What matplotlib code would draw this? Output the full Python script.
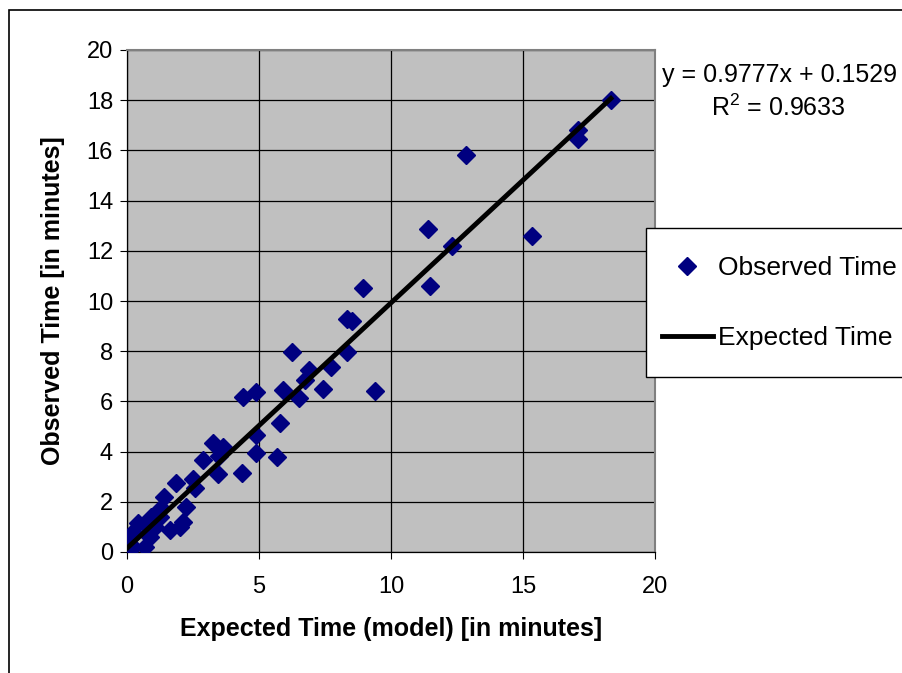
import matplotlib
matplotlib.use('Agg')
import matplotlib.pyplot as plt
from matplotlib.patches import Rectangle

plt.rcParams['font.family'] = ['Liberation Sans', 'DejaVu Sans']
plt.rcParams['mathtext.fontset'] = 'custom'
plt.rcParams['mathtext.rm'] = 'Liberation Sans'

# observed vs expected times (minutes)
expected = [18.33, 17.08, 17.08, 12.84, 11.40, 15.34, 12.31, 11.48, 8.94, 8.35,
            8.52, 8.33, 6.25, 7.73, 6.89, 6.74, 5.91, 7.42, 6.52, 9.41,
            4.39, 4.89, 5.78, 4.90, 4.87, 5.68, 4.37, 3.26, 3.62, 3.47,
            2.86, 3.43, 2.50, 2.58, 1.86, 1.40, 2.25, 2.12, 2.00, 1.63,
            1.29, 1.25, 0.91, 0.72, 0.42, 0.23, 0.00, 0.23, 0.68, 0.87,
            1.06, 0.11]
observed = [18.00, 16.81, 16.45, 15.82, 12.87, 12.59, 12.19, 10.60, 10.52, 9.30,
            9.22, 7.95, 7.95, 7.37, 7.25, 6.87, 6.45, 6.49, 6.13, 6.41,
            6.18, 6.37, 5.12, 4.68, 3.94, 3.78, 3.13, 4.34, 4.20, 3.84,
            3.65, 3.11, 2.91, 2.55, 2.75, 2.21, 1.79, 1.20, 1.00, 0.88,
            1.75, 1.39, 1.39, 1.08, 1.15, 0.80, 0.35, 0.20, 0.20, 0.60,
            1.00, 0.56]

trend_x = [0.0, 18.33]
trend_y = [0.15, 18.07]

ticks = [0, 5, 10, 15, 20]
yticks = [0, 2, 4, 6, 8, 10, 12, 14, 16, 18, 20]

W, H = 903, 673
fig = plt.figure(figsize=(W / 100, H / 100), dpi=100)
ax = fig.add_axes([127 / W, 1 - 552 / H, (655 - 127) / W, (552 - 50) / H])
ax.set_facecolor('#c0c0c0')

pts, = ax.plot(expected, observed, linestyle='none', marker='D', ms=9,
               color='#000080', label='Observed Time', zorder=3)
trend, = ax.plot(trend_x, trend_y, color='black', lw=3.5, label='Expected Time', zorder=4)

ax.set_xlim(0, 20)
ax.set_ylim(0, 20)
ax.set_xticks(ticks)
ax.set_yticks(yticks)
ax.grid(True, color='black', lw=0.9)
ax.set_axisbelow(True)
ax.tick_params(direction='out', length=5, width=0.8, labelsize=17)
ax.tick_params(axis='x', pad=12)
ax.tick_params(axis='y', pad=5)
for s in ['top', 'right']:
    ax.spines[s].set_color('#808080')
    ax.spines[s].set_linewidth(1.5)
for s in ['left', 'bottom']:
    ax.spines[s].set_color('black')
    ax.spines[s].set_linewidth(0.9)

ax.set_xlabel('Expected Time (model) [in minutes]', fontsize=18, fontweight='bold', labelpad=14)
ax.set_ylabel('Observed Time [in minutes]', fontsize=18, fontweight='bold', labelpad=16)

fig.text(780 / W, 1 - 75 / H, 'y = 0.9777x + 0.1529', fontsize=18,
         ha='center', va='center')
fig.text(778 / W, 1 - 108 / H, r'R$^2$ = 0.9633', fontsize=18,
         ha='center', va='center')

# legend box, runs off the right edge like the original
fig.add_artist(Rectangle((646 / W, 1 - 377 / H), 0.5, (377 - 228) / H,
                         transform=fig.transFigure, facecolor='white',
                         edgecolor='black', lw=1, zorder=1))
leg = fig.legend(handles=[pts, trend], loc='center left',
                 bbox_to_anchor=(662 / W, 1 - 303 / H),
                 frameon=False, fontsize=19,
                 borderpad=0, borderaxespad=0, handlelength=1.92,
                 handletextpad=0.2, labelspacing=1.73)
leg.set_zorder(5)

# outer chart border
fig.add_artist(Rectangle((9 / W, -0.5), 2, 0.5 + 1 - 10 / H,
                         transform=fig.transFigure, fill=False,
                         edgecolor='black', lw=1.2, zorder=-1))

fig.savefig('out.png', dpi=100)
